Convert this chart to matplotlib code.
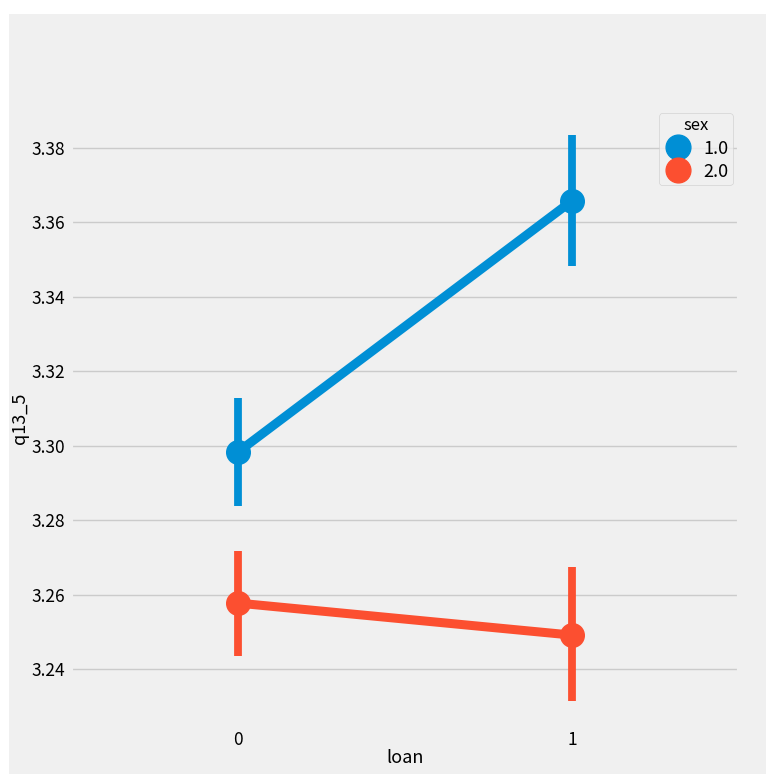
import matplotlib
matplotlib.use("Agg")
import matplotlib.pyplot as plt
from matplotlib.patches import Rectangle

plt.style.use("fivethirtyeight")
plt.rcParams["font.family"] = ["Noto Sans CJK JP", "DejaVu Sans"]

# mean q13_5 per loan group, split by sex, with 95% CI
loan = [0, 1]
sex_levels = ["1.0", "2.0"]
means = {"1.0": [3.2983, 3.3658], "2.0": [3.2577, 3.2491]}
ci_low = {"1.0": [3.2838, 3.3483], "2.0": [3.2435, 3.2314]}
ci_high = {"1.0": [3.3128, 3.3835], "2.0": [3.2717, 3.2674]}
colors = {"1.0": "#008fd5", "2.0": "#fc4f30"}

fig = plt.figure(figsize=(7.66, 7.74), dpi=100, facecolor="white")
fig.patches.append(Rectangle((9 / 766, 0), 1, (774 - 14) / 774,
                             transform=fig.transFigure, facecolor="#f0f0f0",
                             edgecolor="none", zorder=-10))
ax = fig.add_axes([71 / 766, 0.0578, 668 / 766, 0.8044])
ax.set_facecolor("#f0f0f0")

for s in sex_levels:
    ax.vlines(loan, ci_low[s], ci_high[s], color=colors[s], linewidth=5.6, zorder=2)
    ax.plot(loan, means[s], color=colors[s], linewidth=6.5, marker="o",
            markersize=17, label=s, zorder=3)

ax.set_xlim(-0.5, 1.5)
ax.set_ylim(3.2238, 3.3911)
ax.set_xticks(loan)
ax.set_xticklabels([str(v) for v in loan])
ax.set_yticks([3.24, 3.26, 3.28, 3.30, 3.32, 3.34, 3.36, 3.38])
ax.yaxis.set_major_formatter(matplotlib.ticker.FormatStrFormatter("%.2f"))
ax.grid(axis="x", visible=False)
ax.grid(axis="y", color="#cbcbcb", linewidth=1)
ax.tick_params(labelsize=12.5, length=0)
ax.tick_params(axis="y", pad=4)
ax.tick_params(axis="x", pad=1)
ax.set_xlabel("loan", fontsize=13, labelpad=0)
ax.set_ylabel("q13_5", fontsize=13, labelpad=2)

leg = ax.legend(title="sex", loc="upper right", fontsize=13, title_fontsize=12,
                markerscale=1.05, handlelength=1.65, handletextpad=0.55,
                labelspacing=0.28, borderpad=0.25, borderaxespad=0.35,
                frameon=True)
leg.get_frame().set_facecolor("#f0f0f0")
leg.get_frame().set_edgecolor("#cccccc")
for h in leg.legend_handles:
    h.set_linestyle("none")

fig.savefig("out.png", dpi=100, facecolor=fig.get_facecolor())
